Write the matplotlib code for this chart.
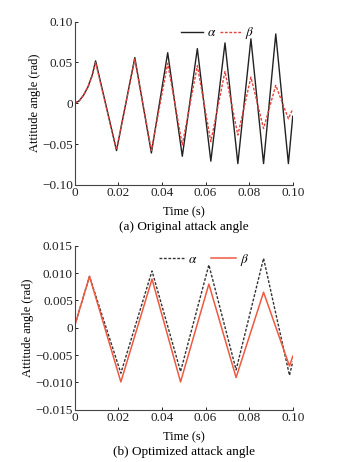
import matplotlib.pyplot as plt

plt.rcParams['font.family'] = ['Liberation Serif', 'DejaVu Serif']
plt.rcParams['mathtext.fontset'] = 'stix'

# (a) original attack angle
t_a = [0, 0.002, 0.004, 0.006, 0.008, 0.0095, 0.0191, 0.0275, 0.0351, 0.0426,
       0.0493, 0.0562, 0.0624, 0.0689, 0.0748, 0.0808, 0.0866, 0.0922, 0.098, 0.100]
alpha_a = [0, 0.003, 0.010, 0.020, 0.035, 0.052, -0.058, 0.056, -0.061, 0.062,
           -0.065, 0.067, -0.071, 0.074, -0.074, 0.079, -0.074, 0.085, -0.074, -0.016]
beta_a = [0, 0.003, 0.010, 0.020, 0.034, 0.050, -0.057, 0.054, -0.058, 0.049,
          -0.051, 0.046, -0.047, 0.039, -0.039, 0.032, -0.031, 0.022, -0.019, -0.007]

# (b) optimized attack angle
t_b = [0, 0.0067, 0.0211, 0.0354, 0.0485, 0.0615, 0.074, 0.0866, 0.0985, 0.100]
alpha_b = [0.0005, 0.0094, -0.0083, 0.0104, -0.0080, 0.0115, -0.0077, 0.0127, -0.0087, -0.0062]
beta_b = [0.0005, 0.0094, -0.0099, 0.0089, -0.0099, 0.0080, -0.0091, 0.0065, -0.0070, -0.0052]

xticks = [0, 0.02, 0.04, 0.06, 0.08, 0.10]
xlabels = ['0', '0.02', '0.04', '0.06', '0.08', '0.10']

fig = plt.figure(figsize=(3.42, 4.62), dpi=100)
ax1 = fig.add_axes([0.219, 0.600, 0.637, 0.353])
ax2 = fig.add_axes([0.219, 0.113, 0.637, 0.355])

red = '#e8403a'
ax1.plot(t_a, alpha_a, color='#222222', lw=1.0, label=r'$\alpha$')
ax1.plot(t_a, beta_a, color=red, lw=1.0, ls=(0, (2, 1.2)), label=r'$\beta$')
ax2.plot(t_b, alpha_b, color='#333333', lw=1.0, ls=(0, (2, 1.2)), label=r'$\alpha$')
ax2.plot(t_b, beta_b, color='#ee5a40', lw=1.1, label=r'$\beta$')

ax1.set_ylim(-0.1, 0.1)
ax1.set_yticks([-0.10, -0.05, 0, 0.05, 0.10])
ax1.set_yticklabels(['\u22120.10', '\u22120.05', '0', '0.05', '0.10'])
ax2.set_ylim(-0.015, 0.015)
ax2.set_yticks([-0.015, -0.010, -0.005, 0, 0.005, 0.010, 0.015])
ax2.set_yticklabels(['\u22120.015', '\u22120.010', '\u22120.005', '0', '0.005', '0.010', '0.015'])

for ax, cap in [(ax1, '(a) Original attack angle'), (ax2, '(b) Optimized attack angle')]:
    ax.set_xlim(0, 0.1)
    ax.set_xticks(xticks)
    ax.set_xticklabels(xlabels)
    for s in ['top', 'right']:
        ax.spines[s].set_visible(False)
    for s in ['left', 'bottom']:
        ax.spines[s].set_color('#444444')
        ax.spines[s].set_linewidth(0.8)
    ax.tick_params(direction='in', length=2.5, width=0.7, labelsize=9.5, pad=1.5, colors='#222222')
    ax.set_ylabel('Attitude angle (rad)', fontsize=9, labelpad=1)
    ax.set_xlabel('Time (s)', fontsize=9, labelpad=5)
    ax.text(0.5, -0.22, cap, transform=ax.transAxes, ha='center', va='top', fontsize=9.5)

ax1.legend(loc='upper left', bbox_to_anchor=(0.465, 1.01), ncol=2, frameon=False, fontsize=9.5,
           handlelength=1.6, handletextpad=0.3, columnspacing=0.3, borderaxespad=0)
ax2.legend(loc='upper left', bbox_to_anchor=(0.36, 0.995), ncol=2, frameon=False, fontsize=9.5,
           handlelength=1.9, handletextpad=0.3, columnspacing=1.1, borderaxespad=0)

fig.savefig('out.png', dpi=100)
